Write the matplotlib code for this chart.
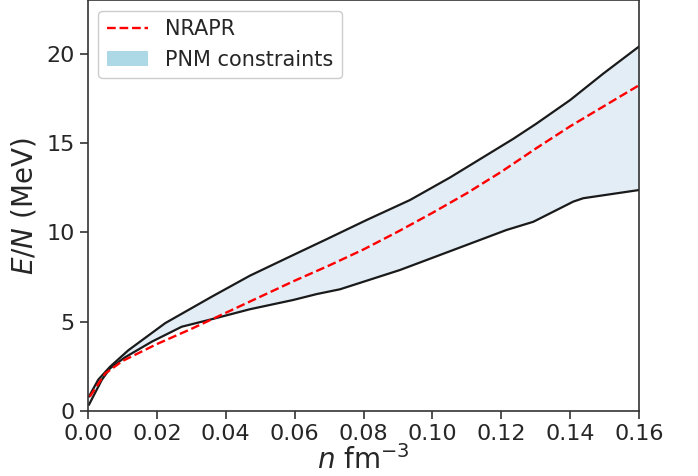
import matplotlib
matplotlib.use("Agg")
import matplotlib.pyplot as plt
from matplotlib.patches import Patch
import numpy as np

# NRAPR curve
n_nrapr = [0.0005, 0.005, 0.01, 0.02, 0.03, 0.04, 0.05, 0.06, 0.07, 0.08,
           0.09, 0.10, 0.11, 0.12, 0.13, 0.14, 0.15, 0.16]
e_nrapr = [0.8, 2.1, 2.8, 3.75, 4.6, 5.5, 6.4, 7.3, 8.15, 9.05,
           10.05, 11.1, 12.2, 13.4, 14.7, 15.95, 17.1, 18.25]

# PNM constraint band: upper edge
n_upper = [0.0003, 0.003, 0.0064, 0.0117, 0.0224, 0.0359, 0.047, 0.0596, 0.0688,
           0.0809, 0.0935, 0.1051, 0.1235, 0.1302, 0.140, 0.1496, 0.16]
e_upper = [0.82, 1.76, 2.48, 3.4, 4.92, 6.4, 7.58, 8.74, 9.58,
           10.7, 11.82, 13.08, 15.25, 16.1, 17.42, 18.9, 20.42]

# PNM constraint band: lower edge
n_lower = [0.0003, 0.004, 0.0064, 0.0107, 0.0185, 0.0272, 0.0359, 0.047, 0.0596,
           0.0664, 0.0732, 0.0906, 0.1051, 0.1215, 0.1293, 0.1409, 0.1438, 0.16]
e_lower = [0.36, 1.74, 2.39, 3.0, 3.88, 4.72, 5.14, 5.7, 6.22,
           6.55, 6.82, 7.9, 8.95, 10.14, 10.6, 11.73, 11.92, 12.38]

xticks = [0.00, 0.02, 0.04, 0.06, 0.08, 0.10, 0.12, 0.14, 0.16]
yticks = [0, 5, 10, 15, 20]

plt.rcParams['font.family'] = ['DejaVu Sans']
text_c = '#262626'
plt.rcParams['text.color'] = text_c
plt.rcParams['axes.labelcolor'] = text_c
plt.rcParams['xtick.color'] = text_c
plt.rcParams['ytick.color'] = text_c

fig = plt.figure(figsize=(6.98, 4.76), dpi=100)
ax = fig.add_axes([0.1261, 0.1366, 0.7894, 0.8624])

# band
grid = np.union1d(n_upper, n_lower)
up_i = np.interp(grid, n_upper, e_upper)
lo_i = np.interp(grid, n_lower, e_lower)
ax.fill_between(grid, lo_i, up_i, color='#E3EDF6', lw=0, zorder=1)
ax.plot(n_upper, e_upper, color='#1a1a1a', lw=1.6, zorder=2)
ax.plot(n_lower, e_lower, color='#1a1a1a', lw=1.6, zorder=2)
ax.plot(n_nrapr, e_nrapr, color='red', ls='--', lw=1.7, zorder=3)

ax.set_xlim(0, 0.16)
ax.set_ylim(0, 23)
ax.set_xticks(xticks)
ax.set_xticklabels([f"{t:.2f}" for t in xticks])
ax.set_yticks(yticks)
ax.tick_params(labelsize=16, length=6, width=1.2, color='#333333')
for s in ax.spines.values():
    s.set_color('#333333')
    s.set_linewidth(1.2)

ax.set_xlabel(r'$n$ fm$^{-3}$', fontsize=20, labelpad=1)
ax.set_ylabel(r'$E/N$ (MeV)', fontsize=20, labelpad=6)

handles = [plt.Line2D([], [], color='red', ls='--', lw=1.7),
           Patch(facecolor='lightblue', edgecolor='none')]
ax.legend(handles, ['NRAPR', 'PNM constraints'], loc='upper left', fontsize=15,
          frameon=True, edgecolor='#cccccc', framealpha=1)

fig.savefig('out.png', dpi=100)
